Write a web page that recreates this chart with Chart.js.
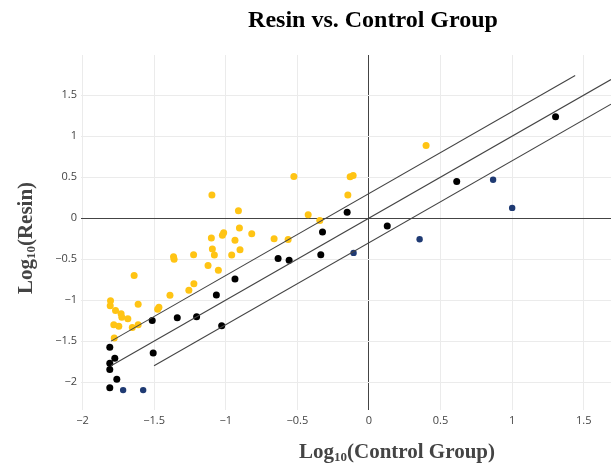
<!DOCTYPE html>
<html>
<head>
<meta charset="utf-8">
<script src="https://cdn.jsdelivr.net/npm/chart.js@4.4.0/dist/chart.umd.min.js"></script>
<style>
  body { margin: 0; background: #fff; }
  #wrap { width: 611px; height: 469px; }
</style>
</head>
<body>
<div id="wrap"><canvas id="chart" width="611" height="469"></canvas></div>
<script>
// values (log10 scale)
const yellowX = [-1.364, -1.36, -1.224, -1.639, -1.222, -1.257, -1.389, -1.804, -1.806, -1.611,
  -1.466, -1.475, -1.769, -1.73, -1.725, -1.683, -1.781, -1.746, -1.652, -1.611, -1.778,
  -1.096, -0.911, -0.904, -1.014, -1.023, -0.818, -1.1, -0.935, -0.662, -0.564, -1.093, -0.9,
  -1.079, -0.958, -1.123, -1.051, -0.524, -0.131, -0.11, -0.147, -0.424, -0.343, 0.399];
const yellowY = [-0.47, -0.5, -0.445, -0.7, -0.8, -0.88, -0.94, -1.006, -1.067, -1.05,
  -1.087, -1.11, -1.127, -1.167, -1.208, -1.228, -1.3, -1.317, -1.333, -1.3, -1.463,
  0.283, 0.089, -0.121, -0.178, -0.21, -0.19, -0.242, -0.27, -0.25, -0.26, -0.376, -0.384,
  -0.448, -0.448, -0.578, -0.634, 0.509, 0.505, 0.521, 0.283, 0.04, -0.028, 0.885];

const blackX = [-1.513, -1.338, -1.203, -1.809, -1.774, -1.506, -1.809, -1.809, -1.76, -1.809,
  -0.634, -0.557, -0.935, -1.065, -1.028, -0.152, -0.324, -0.336, 0.128, 1.303, 0.613];
const blackY = [-1.248, -1.216, -1.204, -1.576, -1.709, -1.645, -1.77, -1.846, -1.964, -2.069,
  -0.493, -0.513, -0.743, -0.937, -1.313, 0.073, -0.17, -0.445, -0.097, 1.236, 0.448];

const navyX = [-1.716, -1.576, -0.107, 0.354, 0.867, 1.0];
const navyY = [-2.097, -2.097, -0.424, -0.258, 0.469, 0.125];

// reference lines (2-fold up, equal, 2-fold down)
const upperLineX = [-1.8, 1.44];
const upperLineY = [-1.5, 1.74];
const midLineX = [-1.8, 1.69];
const midLineY = [-1.8, 1.69];
const lowerLineX = [-1.5, 1.69];
const lowerLineY = [-1.8, 1.39];

const xTicks = [-2, -1.5, -1, -0.5, 0, 0.5, 1, 1.5];
const yTicks = [-2, -1.5, -1, -0.5, 0, 0.5, 1, 1.5];

const titleText = 'Resin vs. Control Group';
const xTitle = ['Log', '10', '(Control Group)'];
const yTitle = ['Log', '10', '(Resin)'];

const pts = (xs, ys) => xs.map((x, i) => ({ x: x, y: ys[i] }));
const fmt = v => (v < 0 ? '\u2212' + Math.abs(v) : String(v));

const serif = '"Liberation Serif", "Times New Roman", serif';

function drawSubTitle(ctx, parts, size) {
  const big = 'bold ' + size + 'px ' + serif;
  const small = 'bold ' + Math.round(size * 0.62) + 'px ' + serif;
  ctx.font = big;
  const w0 = ctx.measureText(parts[0]).width;
  const w2 = ctx.measureText(parts[2]).width;
  ctx.font = small;
  const w1 = ctx.measureText(parts[1]).width;
  const total = w0 + w1 + w2;
  let x = -total / 2;
  ctx.textBaseline = 'alphabetic';
  ctx.textAlign = 'left';
  ctx.font = big;
  ctx.fillText(parts[0], x, 0);
  x += w0;
  ctx.font = small;
  ctx.fillText(parts[1], x, 3);
  x += w1;
  ctx.font = big;
  ctx.fillText(parts[2], x, 0);
}

const titles = {
  id: 'titles',
  afterDraw(chart) {
    const ctx = chart.ctx;
    ctx.save();
    ctx.fillStyle = '#000';
    ctx.font = 'bold 24px ' + serif;
    ctx.textAlign = 'center';
    ctx.textBaseline = 'middle';
    ctx.fillText(titleText, 373, 21);

    ctx.fillStyle = '#444';
    ctx.save();
    ctx.translate(397, 458);
    drawSubTitle(ctx, xTitle, 21);
    ctx.restore();

    ctx.save();
    ctx.translate(32, 238);
    ctx.rotate(-Math.PI / 2);
    drawSubTitle(ctx, yTitle, 21);
    ctx.restore();
    ctx.restore();
  }
};

const lineStyle = {
  showLine: true, borderColor: '#444', borderWidth: 1.1, pointRadius: 0, fill: false
};

const gridColor = c => (c.tick && c.tick.value === 0 ? '#444' : '#ebebeb');

new Chart(document.getElementById('chart'), {
  type: 'scatter',
  data: {
    datasets: [
      Object.assign({ data: pts(upperLineX, upperLineY) }, lineStyle),
      Object.assign({ data: pts(midLineX, midLineY) }, lineStyle),
      Object.assign({ data: pts(lowerLineX, lowerLineY) }, lineStyle),
      { data: pts(yellowX, yellowY), backgroundColor: '#ffc414', borderWidth: 0, pointRadius: 3.5 },
      { data: pts(blackX, blackY), backgroundColor: '#000', borderWidth: 0, pointRadius: 3.5 },
      { data: pts(navyX, navyY), backgroundColor: '#1f3a73', borderWidth: 0, pointRadius: 3.2 }
    ]
  },
  options: {
    responsive: false,
    animation: false,
    layout: { autoPadding: false, padding: { left: 0, right: 0, top: 55, bottom: 0 } },
    plugins: { legend: { display: false }, tooltip: { enabled: false }, title: { display: false } },
    scales: {
      x: {
        type: 'linear', min: -2.01, max: 1.69,
        afterBuildTicks: s => { s.ticks = xTicks.map(v => ({ value: v })); },
        afterFit: s => { s.height = 59; },
        border: { display: false },
        grid: { color: gridColor, drawTicks: false, lineWidth: 1 },
        ticks: { padding: 4, color: '#444', font: { family: '"Open Sans"', size: 11 }, callback: fmt, maxRotation: 0 }
      },
      y: {
        type: 'linear', min: -2.34, max: 1.99,
        afterBuildTicks: s => { s.ticks = yTicks.map(v => ({ value: v })); },
        afterFit: s => { s.width = 81; },
        border: { display: false },
        grid: { color: gridColor, drawTicks: false, lineWidth: 1 },
        ticks: { padding: 4, color: '#444', font: { family: '"Open Sans"', size: 11 }, callback: fmt }
      }
    }
  },
  plugins: [titles]
});
</script>
</body>
</html>
